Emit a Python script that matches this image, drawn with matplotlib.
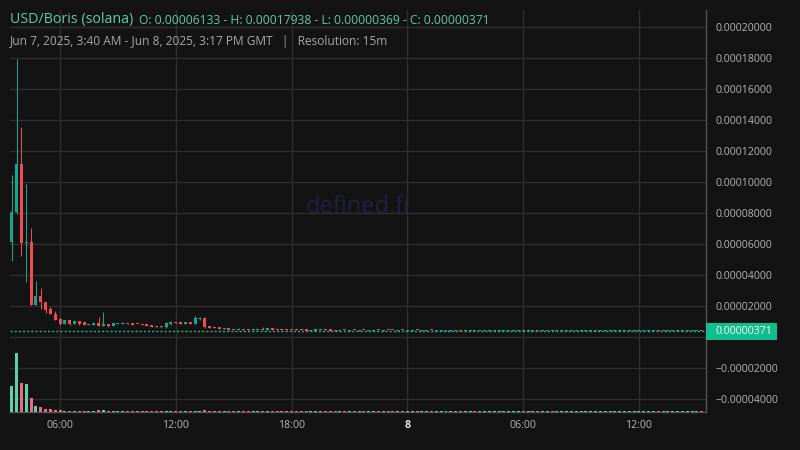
import matplotlib
matplotlib.use("Agg")
import matplotlib.pyplot as plt
import matplotlib.dates as mdates
from matplotlib.patches import Rectangle
from matplotlib.transforms import blended_transform_factory
import pandas as pd
import numpy as np

plt.rcParams['font.family'] = ['Open Sans', 'DejaVu Sans']

# 15-minute candles, prices in millionths of a USD (1e-6)
opens = [
    61.33, 80.6, 111.6, 60.8, 61.5, 20.6, 26.5, 22.4, 17.9, 15.0, 11.8, 8.4,
    11.0, 8.4, 10.3, 9.5, 8.0, 8.0, 9.2, 7.3, 8.4, 7.3, 8.6, 8.6,
    9.0, 9.0, 8.6, 8.2, 8.2, 7.7, 7.1, 7.1, 6.6, 8.6, 9.7, 9.7,
    8.6, 9.7, 8.6, 11.6, 12.3, 7.1, 6.45, 6.45, 5.4, 5.8, 5.2, 4.7,
    5.2, 5.2, 4.7, 4.7, 5.2, 4.7, 5.8, 5.2, 5.2, 5.2, 5.1, 5.1,
    5.1, 5.2, 3.9, 4.0, 4.7, 5.0, 5.2, 4.3, 4.0, 4.5, 4.0, 4.5,
    4.0, 4.5, 4.1, 4.1, 4.5, 4.0, 4.5, 4.5, 4.0, 4.5, 4.0, 4.0,
    4.5, 4.0, 4.0, 4.5, 4.0, 4.0, 4.0, 4.0, 4.0, 4.6, 3.72, 3.72,
    3.80, 3.72, 3.72, 3.72, 3.72, 3.72, 3.72, 3.72, 3.72, 3.72, 3.80, 3.72,
    3.72, 3.80, 3.72, 3.72, 3.80, 3.72, 3.72, 3.72, 3.72, 3.72, 3.72, 3.72,
    3.72, 3.72, 3.72, 3.72, 3.72, 3.72, 3.72, 3.72, 3.72, 3.72, 3.72, 3.72,
    3.72, 3.72, 3.80, 3.72, 3.72, 3.72, 3.72, 3.72, 3.72, 3.72, 3.72, 3.72,
]
highs = [
    104.5, 179.38, 135.5, 98.7, 70.3, 36.1, 31.6, 22.6, 19.5, 16.8, 12.5, 11.0,
    11.2, 10.4, 10.4, 9.9, 8.5, 9.3, 12.9, 16.1, 8.5, 9.3, 9.1, 9.7,
    9.1, 9.1, 8.7, 8.3, 8.3, 7.8, 7.2, 7.2, 9.7, 10.3, 9.8, 9.8,
    9.8, 9.8, 13.5, 12.9, 12.9, 7.2, 6.5, 6.5, 5.9, 5.9, 5.3, 5.8,
    5.3, 5.3, 5.3, 5.3, 6.45, 5.9, 5.9, 5.3, 5.3, 5.3, 5.2, 5.2,
    5.2, 5.3, 4.4, 5.3, 5.1, 5.1, 5.3, 4.4, 4.4, 4.6, 4.4, 4.6,
    4.3, 4.6, 4.4, 4.4, 4.6, 4.3, 4.6, 4.6, 4.3, 4.6, 4.3, 4.3,
    4.6, 4.3, 4.3, 4.6, 4.3, 4.3, 4.3, 4.3, 4.3, 4.7, 3.85, 3.85,
    3.85, 3.85, 3.85, 3.85, 3.85, 3.85, 3.85, 3.85, 3.85, 3.85, 3.85, 3.85,
    3.85, 3.85, 3.85, 3.85, 3.85, 3.85, 3.85, 3.85, 3.85, 3.85, 3.85, 3.85,
    3.85, 3.85, 3.85, 3.85, 3.85, 3.85, 3.85, 3.85, 3.85, 3.85, 3.85, 3.85,
    3.85, 3.85, 3.85, 3.85, 3.85, 3.85, 3.85, 3.85, 3.85, 3.85, 3.85, 3.85,
]
lows = [
    49.0, 79.5, 52.5, 35.7, 20.4, 20.4, 18.3, 15.7, 14.8, 11.0, 8.0, 8.2,
    7.7, 8.3, 7.7, 7.9, 7.9, 7.9, 7.2, 7.2, 6.6, 7.2, 8.5, 8.5,
    8.5, 7.9, 8.1, 7.5, 7.2, 6.5, 6.5, 6.5, 6.0, 7.96, 9.1, 8.5,
    8.5, 8.5, 8.5, 11.0, 6.0, 5.9, 5.9, 5.3, 5.3, 4.6, 4.6, 4.5,
    4.6, 4.6, 4.6, 4.6, 4.6, 4.6, 4.6, 4.6, 4.7, 4.7, 4.7, 4.7,
    4.7, 3.8, 3.8, 3.9, 4.6, 4.6, 3.8, 3.9, 3.9, 4.2, 3.9, 4.2,
    3.9, 4.2, 4.0, 4.0, 4.2, 3.9, 4.2, 4.2, 3.9, 4.2, 3.9, 3.9,
    4.2, 3.9, 3.9, 4.2, 3.9, 3.9, 3.9, 3.9, 3.9, 3.7, 3.70, 3.70,
    3.70, 3.70, 3.70, 3.70, 3.70, 3.70, 3.70, 3.70, 3.70, 3.70, 3.70, 3.70,
    3.70, 3.70, 3.70, 3.70, 3.70, 3.70, 3.70, 3.70, 3.70, 3.70, 3.70, 3.70,
    3.70, 3.70, 3.70, 3.70, 3.70, 3.70, 3.70, 3.70, 3.70, 3.70, 3.70, 3.70,
    3.70, 3.70, 3.70, 3.70, 3.70, 3.70, 3.70, 3.70, 3.70, 3.70, 3.70, 3.69,
]
closes = [
    80.6, 111.6, 60.8, 61.5, 20.6, 26.5, 22.4, 17.4, 15.0, 11.2, 8.2, 11.0,
    8.4, 10.3, 8.4, 8.0, 8.4, 9.2, 7.3, 8.4, 7.3, 9.2, 9.0, 9.2,
    8.6, 7.96, 8.2, 7.96, 7.3, 6.6, 6.6, 6.6, 9.0, 9.9, 9.2, 8.6,
    9.7, 8.6, 12.3, 12.3, 6.6, 6.0, 6.0, 5.4, 5.8, 4.7, 4.7, 5.2,
    4.7, 4.7, 5.2, 5.2, 4.7, 5.8, 4.7, 4.7, 4.8, 4.8, 4.8, 4.8,
    4.8, 3.9, 4.3, 5.2, 5.0, 4.7, 3.9, 4.0, 4.3, 4.3, 4.3, 4.3,
    4.2, 4.3, 4.3, 4.3, 4.3, 4.2, 4.3, 4.3, 4.2, 4.3, 4.2, 4.2,
    4.3, 4.2, 4.2, 4.3, 4.2, 4.2, 4.2, 4.2, 4.2, 3.8, 3.80, 3.80,
    3.72, 3.80, 3.80, 3.80, 3.80, 3.80, 3.80, 3.80, 3.80, 3.80, 3.72, 3.80,
    3.80, 3.72, 3.80, 3.80, 3.72, 3.80, 3.80, 3.80, 3.80, 3.80, 3.80, 3.80,
    3.80, 3.80, 3.80, 3.80, 3.80, 3.80, 3.80, 3.80, 3.80, 3.80, 3.80, 3.80,
    3.80, 3.80, 3.72, 3.80, 3.80, 3.80, 3.80, 3.80, 3.80, 3.80, 3.80, 3.71,
]
volumes = [
    2570, 5970, 2870, 2770, 1370, 570, 470, 270, 270, 170, 170, 110,
    100, 95, 110, 100, 95, 100, 170, 170, 110, 100, 95, 100,
    95, 100, 95, 90, 95, 100, 95, 90, 110, 100, 95, 95,
    90, 95, 115, 100, 210, 110, 95, 100, 90, 95, 90, 95,
    90, 95, 100, 95, 110, 95, 100, 90, 95, 90, 95, 90,
    95, 100, 95, 100, 90, 95, 100, 90, 95, 90, 95, 90,
    95, 90, 95, 95, 90, 95, 90, 95, 95, 90, 95, 95,
    90, 95, 95, 90, 95, 95, 95, 95, 95, 100, 95, 90,
    95, 90, 95, 95, 90, 95, 90, 95, 95, 95, 90, 95,
    95, 90, 95, 95, 90, 95, 95, 90, 95, 95, 90, 95,
    95, 90, 95, 95, 90, 95, 95, 90, 95, 95, 90, 95,
    95, 90, 95, 95, 90, 95, 95, 90, 95, 95, 90, 95,
]
last_price = 3.71
price_ticks = [-40, -20, 0, 20, 40, 60, 80, 100, 120, 140, 160, 180, 200]
time_ticks = ["2025-06-07 06:00", "2025-06-07 12:00", "2025-06-07 18:00",
              "2025-06-08 00:00", "2025-06-08 06:00", "2025-06-08 12:00"]
time_labels = ["06:00", "12:00", "18:00", "8", "06:00", "12:00"]

BG = "#131313"
GRID = "#2e2e2e"
UP = "#14a78f"
DOWN = "#ef4b50"
VOL_UP = "#5dcfa7"
VOL_DOWN = "#e96a84"
TEXT = "#b4b4b4"
TEAL = "#5fc9a9"

times = pd.date_range("2025-06-07 03:30", periods=len(opens), freq="15min")
x = mdates.date2num(times.to_pydatetime())
o = np.array(opens)
h = np.array(highs)
l = np.array(lows)
c = np.array(closes)
up = c >= o
step = 15 / 1440
width = 0.62 * step

fig = plt.figure(figsize=(8, 4.5), dpi=100, facecolor=BG)
ax = fig.add_axes([10 / 800, 1 - 412 / 450, 696 / 800, 402 / 450])
ax.set_facecolor(BG)

# volume on its own scale, pinned to the bottom of the panel
axv = ax.twinx()
axv.bar(x, volumes, width=width, color=np.where(up, VOL_UP, VOL_DOWN), linewidth=0, zorder=1)
axv.set_ylim(0, max(volumes) * 402 / 59.5)
axv.set_yticks([])
for s in axv.spines.values():
    s.set_visible(False)

# candles
colors = np.where(up, UP, DOWN)
ax.vlines(x, l, h, colors=colors, linewidth=0.75, zorder=3)
body_lo = np.minimum(o, c)
body_h = np.maximum(np.abs(c - o), 0.6)
ax.bar(x, body_h, bottom=body_lo, width=width, color=colors, linewidth=0, zorder=4)

# last price line
ax.axhline(last_price, color="#19b892", linewidth=1.0, linestyle=(0, (1.5, 1.5)), zorder=2)

ax.set_xlim(mdates.date2num(pd.Timestamp("2025-06-07 03:24:30")),
            mdates.date2num(pd.Timestamp("2025-06-08 15:28:20")))
ax.set_ylim(-48.4, 211.0)

ax.set_yticks(price_ticks)
ax.set_yticklabels([("" if v == 0 else f"{v * 1e-6:.8f}".replace("-", "\u2212")) for v in price_ticks])
ax.yaxis.tick_right()
ax.tick_params(axis="y", length=0, pad=7, labelsize=7.6, labelcolor=TEXT)

tick_pos = mdates.date2num(pd.to_datetime(time_ticks).to_pydatetime())
ax.set_xticks(tick_pos)
ax.set_xticklabels(time_labels)
ax.tick_params(axis="x", length=0, pad=6, labelsize=7.7, labelcolor=TEXT)
for lbl, txt in zip(ax.get_xticklabels(), time_labels):
    if txt == "8":
        lbl.set_fontweight("bold")
        lbl.set_color("#e6e6e6")

ax.grid(True, color=GRID, linewidth=1.0)
ax.set_axisbelow(True)
for side in ("left", "top"):
    ax.spines[side].set_visible(False)
ax.spines["right"].set_color("#555555")
ax.spines["bottom"].set_color("#555555")
ax.spines["right"].set_linewidth(1.0)
ax.spines["bottom"].set_linewidth(1.0)

# last price tag on the price scale
tr = blended_transform_factory(ax.transAxes, ax.transData)
axv.add_patch(Rectangle((1.0, last_price - 5.5), 71 / 696, 11.0, transform=tr,
                        facecolor="#10bd8c", edgecolor="none", clip_on=False, zorder=10))
axv.text(1.0 + 10 / 696, last_price, f"{last_price * 1e-6:.8f}", transform=tr,
         color="white", fontsize=7.6, va="center", ha="left", clip_on=False, zorder=11)

# watermark
fig.text(358 / 800, 1 - 207 / 450, "defined.fi", color="#212042", fontsize=17,
         ha="center", va="center")

# header
fig.text(10 / 800, 1 - 20 / 450, "USD/Boris (solana)", color=TEAL, fontsize=10.3,
         ha="left", va="center")
fig.text(139 / 800, 1 - 20 / 450,
         "O: 0.00006133 - H: 0.00017938 - L: 0.00000369 - C: 0.00000371",
         color=TEAL, fontsize=8.75, ha="left", va="center")
fig.text(10 / 800, 1 - 41 / 450,
         "Jun 7, 2025, 3:40 AM - Jun 8, 2025, 3:17 PM GMT   |   Resolution: 15m",
         color="#a8a8a8", fontsize=8.6, ha="left", va="center")

fig.savefig("out.png", dpi=100, facecolor=BG)
